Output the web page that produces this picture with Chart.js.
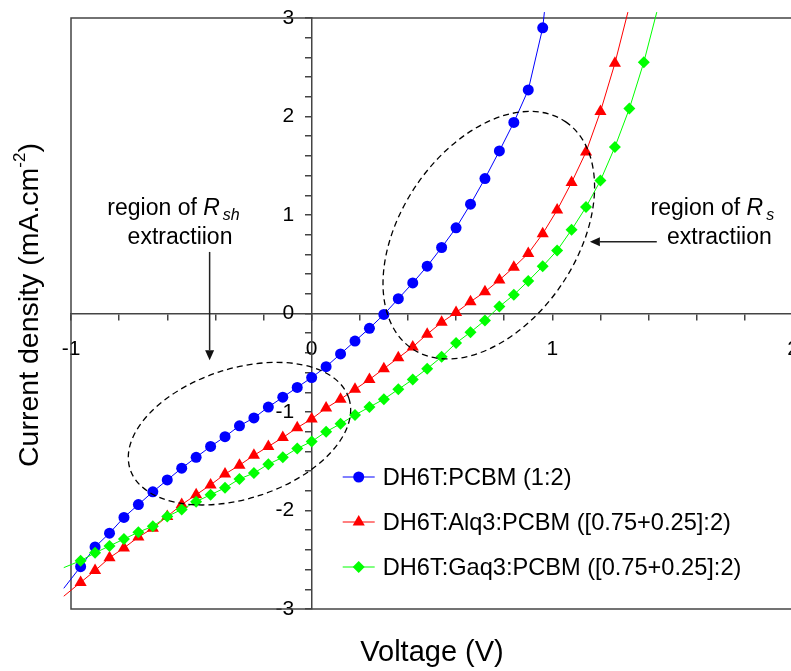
<!DOCTYPE html>
<html>
<head>
<meta charset="utf-8">
<script src="https://cdn.jsdelivr.net/npm/chart.js@4.4.1/dist/chart.umd.min.js"></script>
<style>
  html, body { margin: 0; padding: 0; background: #fff; overflow: hidden; }
  #wrap { position: absolute; left: 0; top: 0; width: 800px; height: 671px; }
</style>
</head>
<body>
<div id="wrap"><canvas id="jv"></canvas></div>
<script>
// bias voltage (V) of the markers, one every 60 mV
const voltage = [-0.96, -0.90, -0.84, -0.78, -0.72, -0.66, -0.60, -0.54, -0.48, -0.42,
  -0.36, -0.30, -0.24, -0.18, -0.12, -0.06, 0.00, 0.06, 0.12, 0.18,
  0.24, 0.30, 0.36, 0.42, 0.48, 0.54, 0.60, 0.66, 0.72, 0.78,
  0.84, 0.90, 0.96, 1.02, 1.08, 1.14, 1.20, 1.26, 1.32, 1.38];

// current density (mA/cm2)
const jPcbm = [-2.57, -2.37, -2.23, -2.07, -1.94, -1.81, -1.69, -1.57, -1.46, -1.35,
  -1.25, -1.14, -1.06, -0.95, -0.85, -0.75, -0.65, -0.54, -0.41, -0.28,
  -0.15, -0.01, 0.15, 0.31, 0.48, 0.67, 0.87, 1.11, 1.37, 1.65,
  1.94, 2.27, 2.90];
const jAlq3 = [-2.73, -2.61, -2.48, -2.38, -2.27, -2.18, -2.06, -1.94, -1.84, -1.74,
  -1.63, -1.54, -1.44, -1.35, -1.26, -1.16, -1.07, -0.96, -0.87, -0.77,
  -0.67, -0.56, -0.45, -0.34, -0.21, -0.09, 0.01, 0.12, 0.22, 0.34,
  0.47, 0.61, 0.81, 1.05, 1.33, 1.64, 2.05, 2.54];
const jGaq3 = [-2.51, -2.43, -2.36, -2.29, -2.22, -2.16, -2.06, -1.99, -1.91, -1.84,
  -1.77, -1.68, -1.62, -1.53, -1.46, -1.37, -1.30, -1.20, -1.12, -1.03,
  -0.95, -0.87, -0.77, -0.67, -0.56, -0.44, -0.30, -0.19, -0.07, 0.07,
  0.19, 0.33, 0.48, 0.64, 0.85, 1.08, 1.35, 1.69, 2.08, 2.55];

// the fitted curves run a bit past the first and last markers
const endsPcbm = [[-1.03, -2.79], [0.967, 3.06]];
const endsAlq3 = [[-1.03, -2.87], [1.314, 3.06]];
const endsGaq3 = [[-1.03, -2.58], [1.434, 3.06]];

const seriesNames = ['DH6T:PCBM (1:2)', 'DH6T:Alq3:PCBM ([0.75+0.25]:2)', 'DH6T:Gaq3:PCBM ([0.75+0.25]:2)'];
const xLabels = [-1, 0, 1, 2];
const yLabels = [-3, -2, -1, 0, 1, 2, 3];

const FONT = '"Liberation Sans", Arial, Helvetica, sans-serif';
const AXIS = '#444';

function curve(j, ends) {
  const pts = [{ x: ends[0][0], y: ends[0][1] }];
  j.forEach(function (v, i) { pts.push({ x: voltage[i], y: v }); });
  pts.push({ x: ends[1][0], y: ends[1][1] });
  return pts;
}

function markerSize(r) {
  return function (ctx) {
    const n = ctx.dataset.data.length;
    return (ctx.dataIndex === 0 || ctx.dataIndex === n - 1) ? 0 : r;
  };
}

function tickText(list, pad) {
  return function (v) {
    const k = Math.round(v);
    return (Math.abs(v - k) < 1e-6 && list.indexOf(k) >= 0) ? String(k) + pad : '';
  };
}

// centred axes should not eat layout space
function noSpace(s) {
  s.width = s.isHorizontal() ? s.width : 0;
  s.height = s.isHorizontal() ? 0 : s.height;
  s.paddingLeft = 0; s.paddingRight = 0; s.paddingTop = 0; s.paddingBottom = 0;
}

function series(label, j, ends, color, style, r, order) {
  return {
    label: label,
    data: curve(j, ends),
    borderColor: color,
    borderWidth: 1,
    backgroundColor: color,
    pointBackgroundColor: color,
    pointBorderWidth: 0,
    pointStyle: style,
    pointRadius: markerSize(r),
    pointHoverRadius: markerSize(r),
    markerRadius: r,
    tension: 0,
    order: order,
    clip: { left: 8, top: 6, right: 0, bottom: 0 }
  };
}

// dashed ellipses, arrows and notes (centres in data units, sizes in px)
const ellipses = [
  { v: -0.30, j: -1.22, rx: 115, ry: 65, rot: -18 },
  { v: 0.736, j: 0.795, rx: 137, ry: 88, rot: -56 }
];
const arrows = [
  { v0: -0.424, j0: 0.625, v1: -0.424, j1: -0.474 },
  { v0: 1.434, j0: 0.729, v1: 1.156, j1: 0.729 }
];
const notes = [
  { v1: -0.574, v2: -0.547, j1: 1.0, j2: 0.705, sub: 'sh' },
  { v1: 1.665, v2: 1.694, j1: 1.0, j2: 0.705, sub: 's' }
];

const extras = {
  id: 'extras',
  beforeDatasetsDraw(chart) {
    const ctx = chart.ctx, a = chart.chartArea;
    ctx.save();
    ctx.strokeStyle = AXIS;
    ctx.lineWidth = 1.5;
    ctx.strokeRect(a.left, a.top, a.right - a.left, a.bottom - a.top);
    ctx.restore();
  },
  afterDatasetsDraw(chart) {
    const ctx = chart.ctx, xs = chart.scales.x, ys = chart.scales.y;
    ctx.save();
    // dashed ellipses
    ctx.strokeStyle = '#000';
    ctx.lineWidth = 1.3;
    ctx.setLineDash([6, 4]);
    ellipses.forEach(function (e) {
      ctx.beginPath();
      ctx.ellipse(xs.getPixelForValue(e.v), ys.getPixelForValue(e.j), e.rx, e.ry, e.rot * Math.PI / 180, 0, Math.PI * 2);
      ctx.stroke();
    });
    ctx.setLineDash([]);
    // arrows
    ctx.strokeStyle = '#222';
    ctx.fillStyle = '#111';
    ctx.lineWidth = 1.5;
    arrows.forEach(function (ar) {
      const x0 = xs.getPixelForValue(ar.v0), y0 = ys.getPixelForValue(ar.j0);
      const x1 = xs.getPixelForValue(ar.v1), y1 = ys.getPixelForValue(ar.j1);
      const ang = Math.atan2(y1 - y0, x1 - x0);
      const hl = 10, hw = 4.5;
      ctx.beginPath();
      ctx.moveTo(x0, y0);
      ctx.lineTo(x1 - Math.cos(ang) * hl, y1 - Math.sin(ang) * hl);
      ctx.stroke();
      ctx.beginPath();
      ctx.moveTo(x1, y1);
      ctx.lineTo(x1 - Math.cos(ang) * hl - Math.sin(ang) * hw, y1 - Math.sin(ang) * hl + Math.cos(ang) * hw);
      ctx.lineTo(x1 - Math.cos(ang) * hl + Math.sin(ang) * hw, y1 - Math.sin(ang) * hl - Math.cos(ang) * hw);
      ctx.closePath();
      ctx.fill();
    });
    // notes
    ctx.fillStyle = '#000';
    ctx.textBaseline = 'alphabetic';
    ctx.textAlign = 'left';
    notes.forEach(function (n) {
      const f1 = '23px ' + FONT, fi = 'italic 23px ' + FONT, fs = 'italic 16px ' + FONT;
      ctx.font = f1; const w1 = ctx.measureText('region of ').width;
      ctx.font = fi; const w2 = ctx.measureText('R').width;
      ctx.font = fs; const w3 = ctx.measureText(n.sub).width;
      const total = w1 + w2 + 3 + w3;
      let x = xs.getPixelForValue(n.v1) - total / 2;
      const y = ys.getPixelForValue(n.j1);
      ctx.font = f1; ctx.fillText('region of ', x, y); x += w1;
      ctx.font = fi; ctx.fillText('R', x, y); x += w2 + 3;
      ctx.font = fs; ctx.fillText(n.sub, x, y + 5);
      ctx.font = f1;
      ctx.textAlign = 'center';
      ctx.fillText('extractiion', xs.getPixelForValue(n.v2), ys.getPixelForValue(n.j2));
      ctx.textAlign = 'left';
    });
    ctx.restore();
  },
  afterDraw(chart) {
    const ctx = chart.ctx, xs = chart.scales.x, ys = chart.scales.y, a = chart.chartArea;
    ctx.save();
    // legend inside the plot
    const lx = xs.getPixelForValue(0.129), ly = ys.getPixelForValue(-1.66);
    ctx.font = '23.6px ' + FONT;
    ctx.textBaseline = 'middle';
    ctx.textAlign = 'left';
    chart.data.datasets.forEach(function (ds, i) {
      const y = ly + i * 45;
      ctx.strokeStyle = ds.borderColor;
      ctx.lineWidth = 1;
      ctx.beginPath();
      ctx.moveTo(lx, y);
      ctx.lineTo(lx + 32, y);
      ctx.stroke();
      ctx.fillStyle = ds.borderColor;
      Chart.helpers.drawPoint(ctx, { pointStyle: ds.pointStyle, radius: ds.markerRadius, rotation: 0, borderWidth: 0 }, lx + 16, y);
      ctx.fillStyle = '#000';
      ctx.fillText(seriesNames[i], lx + 40, y + 1);
    });
    // axis titles
    ctx.fillStyle = '#000';
    ctx.font = '29px ' + FONT;
    ctx.textAlign = 'center';
    ctx.fillText('Voltage (V)', (a.left + a.right) / 2, 653);
    ctx.translate(30, 305);
    ctx.rotate(-Math.PI / 2);
    ctx.textAlign = 'left';
    const p1 = 'Current density (mA.cm', p2 = '-2', p3 = ')';
    ctx.font = '28.5px ' + FONT; const w1 = ctx.measureText(p1).width, w3 = ctx.measureText(p3).width;
    ctx.font = '17px ' + FONT; const w2 = ctx.measureText(p2).width;
    let x = -(w1 + w2 + w3) / 2;
    ctx.font = '28.5px ' + FONT; ctx.fillText(p1, x, 0); x += w1;
    ctx.font = '17px ' + FONT; ctx.fillText(p2, x, -10); x += w2;
    ctx.font = '28.5px ' + FONT; ctx.fillText(p3, x, 0);
    ctx.restore();
  }
};

new Chart(document.getElementById('jv'), {
  type: 'line',
  data: {
    datasets: [
      series(seriesNames[0], jPcbm, endsPcbm, '#0000ff', 'circle', 5.5, 2),
      series(seriesNames[1], jAlq3, endsAlq3, '#ff0000', 'triangle', 7, 1),
      series(seriesNames[2], jGaq3, endsGaq3, '#00ff00', 'rectRot', 6, 0)
    ]
  },
  options: {
    responsive: true,
    maintainAspectRatio: false,
    animation: false,
    layout: { padding: { left: 71, right: 7, top: 18, bottom: 62 } },
    plugins: { legend: { display: false }, tooltip: { enabled: false } },
    scales: {
      x: {
        type: 'linear', min: -1, max: 2, position: { y: 0 },
        afterFit: noSpace,
        border: { display: true, color: AXIS, width: 1.5 },
        grid: { drawOnChartArea: false, drawTicks: true, tickLength: 6, color: AXIS, lineWidth: 1.5 },
        ticks: { stepSize: 0.2, autoSkip: false, maxRotation: 0, padding: 17, color: '#000',
          font: { family: FONT, size: 21 }, callback: tickText(xLabels, '') }
      },
      y: {
        type: 'linear', min: -3, max: 3, position: { x: 0 },
        afterFit: noSpace,
        border: { display: true, color: AXIS, width: 1.5 },
        grid: { drawOnChartArea: false, drawTicks: true, tickLength: 6, color: AXIS, lineWidth: 1.5 },
        ticks: { stepSize: 0.2, autoSkip: false, color: '#000',
          font: { family: FONT, size: 21 }, callback: tickText(yLabels, '   ') }
      }
    }
  },
  plugins: [extras]
});
</script>
</body>
</html>
